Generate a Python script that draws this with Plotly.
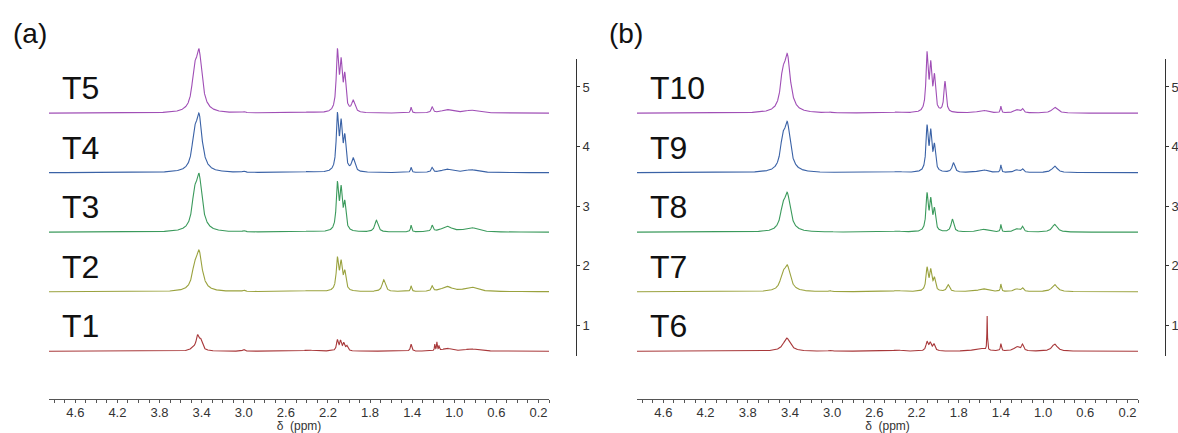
import numpy as np
import plotly.graph_objects as go

W, H = 1178, 433

# ---------------- data ----------------
ppm_range = [4.85, 0.10]
y_ticks = [1, 2, 3, 4, 5]
offsets = [0.56, 1.56, 2.56, 3.56, 4.56]

labels_a = ["T1", "T2", "T3", "T4", "T5"]
labels_b = ["T6", "T7", "T8", "T9", "T10"]
colors = ["#a8383a", "#9aa23e", "#3b9a5c", "#3a62a6", "#a04fb6"]

# peak tables: (chemical shift / ppm, peak height above baseline, half width / ppm)
T1 = [(3.48, 0.08, 0.03), (3.44, 0.28, 0.015), (3.41, 0.22, 0.02), (3.00, 0.03, 0.012),
      (2.38, 0.02, 0.06), (2.11, 0.20, 0.010), (2.08, 0.19, 0.010), (2.05, 0.15, 0.010),
      (2.02, 0.10, 0.012), (1.41, 0.12, 0.008), (1.185, 0.12, 0.004), (1.165, 0.16, 0.004),
      (1.145, 0.10, 0.004), (1.07, 0.05, 0.05), (0.84, 0.04, 0.07)]
T2 = [(3.47, 0.50, 0.025), (3.425, 0.70, 0.035), (3.00, 0.03, 0.012), (2.38, 0.02, 0.06),
      (2.11, 0.59, 0.013), (2.075, 0.54, 0.013), (2.04, 0.37, 0.013), (1.67, 0.20, 0.018),
      (1.41, 0.10, 0.007), (1.21, 0.10, 0.010), (1.07, 0.09, 0.06), (0.84, 0.08, 0.07)]
T3 = [(3.47, 0.76, 0.025), (3.425, 0.99, 0.035), (3.00, 0.03, 0.012), (2.38, 0.02, 0.06),
      (2.11, 0.86, 0.013), (2.075, 0.79, 0.013), (2.04, 0.54, 0.013), (1.74, 0.20, 0.018),
      (1.41, 0.12, 0.007), (1.21, 0.12, 0.010), (1.07, 0.10, 0.06), (0.84, 0.08, 0.07)]
T4 = [(3.47, 0.77, 0.025), (3.425, 1.00, 0.035), (3.00, 0.03, 0.012), (2.38, 0.02, 0.06),
      (2.11, 1.02, 0.013), (2.075, 0.91, 0.013), (2.04, 0.66, 0.013), (1.96, 0.25, 0.018),
      (1.41, 0.09, 0.007), (1.21, 0.09, 0.010), (1.07, 0.06, 0.06), (0.84, 0.05, 0.07)]
T5 = [(3.47, 0.84, 0.025), (3.425, 1.08, 0.035), (3.00, 0.03, 0.012), (2.38, 0.02, 0.06),
      (2.11, 1.09, 0.013), (2.075, 0.94, 0.013), (2.04, 0.69, 0.013), (1.96, 0.22, 0.018),
      (1.41, 0.10, 0.007), (1.21, 0.11, 0.010), (1.07, 0.06, 0.06), (0.84, 0.05, 0.07)]

T6 = [(3.43, 0.22, 0.04), (3.02, 0.02, 0.012), (2.38, 0.02, 0.05), (2.10, 0.17, 0.012),
      (2.07, 0.16, 0.012), (2.035, 0.13, 0.012), (1.60, 0.05, 0.06), (1.53, 0.59, 0.003),
      (1.40, 0.13, 0.006), (1.25, 0.08, 0.03), (1.195, 0.12, 0.012), (0.89, 0.12, 0.03)]
T7 = [(3.47, 0.35, 0.025), (3.425, 0.45, 0.035), (3.02, 0.02, 0.012), (2.38, 0.02, 0.05),
      (2.10, 0.42, 0.012), (2.065, 0.39, 0.012), (2.03, 0.25, 0.012), (1.90, 0.12, 0.015),
      (1.57, 0.05, 0.05), (1.40, 0.13, 0.006), (1.25, 0.05, 0.03), (1.195, 0.07, 0.012),
      (0.89, 0.12, 0.03)]
T8 = [(3.47, 0.50, 0.025), (3.425, 0.67, 0.035), (3.02, 0.02, 0.012), (2.38, 0.02, 0.05),
      (2.10, 0.67, 0.012), (2.065, 0.59, 0.012), (2.03, 0.42, 0.012), (1.86, 0.22, 0.015),
      (1.57, 0.05, 0.05), (1.40, 0.13, 0.006), (1.25, 0.06, 0.03), (1.195, 0.10, 0.012),
      (0.89, 0.13, 0.03)]
T9 = [(3.47, 0.67, 0.025), (3.425, 0.86, 0.035), (3.02, 0.02, 0.012), (2.38, 0.02, 0.05),
      (2.10, 0.81, 0.012), (2.065, 0.74, 0.012), (2.03, 0.50, 0.012), (1.85, 0.17, 0.015),
      (1.57, 0.05, 0.05), (1.40, 0.13, 0.006), (1.25, 0.05, 0.03), (1.195, 0.07, 0.012),
      (0.89, 0.11, 0.03)]
T10 = [(3.47, 0.77, 0.025), (3.425, 1.00, 0.035), (3.02, 0.02, 0.012), (2.38, 0.02, 0.05),
       (2.10, 1.04, 0.012), (2.065, 0.89, 0.012), (2.03, 0.67, 0.012), (1.93, 0.54, 0.012),
       (1.57, 0.05, 0.05), (1.40, 0.12, 0.006), (1.25, 0.06, 0.03), (1.195, 0.08, 0.012),
       (0.89, 0.10, 0.03)]

spectra_a = [T1, T2, T3, T4, T5]
spectra_b = [T6, T7, T8, T9, T10]

# ---------------- build spectra from the peak tables ----------------
grid = np.linspace(ppm_range[0], ppm_range[1], 4751)


def lorentz(x, c, w):
    return 1.0 / (1.0 + ((x - c) / w) ** 2)


def spectrum(peaks):
    c = np.array([p[0] for p in peaks])
    h = np.array([p[1] for p in peaks])
    w = np.array([p[2] for p in peaks])
    A = lorentz(c[:, None], c[None, :], w[None, :])
    amp = np.clip(np.linalg.solve(A, h), 0, None)
    return (amp[None, :] * lorentz(grid[:, None], c[None, :], w[None, :])).sum(axis=1)


FONT = "Arial, Liberation Sans, sans-serif"
fig = go.Figure()

# dummy traces so the visible intensity axes are drawn (added first, drawn underneath)
fig.add_trace(go.Scatter(x=[None], y=[None], xaxis="x", yaxis="y2", showlegend=False, hoverinfo="skip"))
fig.add_trace(go.Scatter(x=[None], y=[None], xaxis="x2", yaxis="y4", showlegend=False, hoverinfo="skip"))

for spectra, labels, xa, ya in [(spectra_a, labels_a, "x", "y"), (spectra_b, labels_b, "x2", "y3")]:
    for peaks, lab, col, off in zip(spectra, labels, colors, offsets):
        fig.add_trace(go.Scatter(x=grid, y=spectrum(peaks) + off, mode="lines",
                                 line=dict(color=col, width=1.1), name=lab,
                                 xaxis=xa, yaxis=ya, hoverinfo="skip"))
        fig.add_annotation(x=4.75, y=off + 0.42, xref=xa, yref=ya, text=lab,
                           showarrow=False, xanchor="left", yanchor="middle",
                           font=dict(family=FONT, size=32, color="#111"))

px_per_unit = (356 - 59) / (5.47 - 0.48)
data_top = 0.48 + 356 / px_per_unit
xpos = 1 - 399 / H
ydom_data = [1 - 356 / H, 1.0]
ydom_vis = [1 - 356 / H, 1 - 59 / H]


def xaxis_cfg(x0, x1):
    return dict(domain=[x0 / W, x1 / W], range=ppm_range, anchor="free", position=xpos,
                showline=True, linecolor="#555", linewidth=1, showgrid=False, zeroline=False,
                ticks="outside", ticklen=3, tickcolor="#555", tickmode="linear", tick0=0.2,
                dtick=0.4, tickformat=".1f", ticklabelstandoff=-2,
                minor=dict(dtick=0.1, tick0=0.2, ticks="outside", ticklen=3, tickcolor="#555",
                           showgrid=False),
                tickfont=dict(family=FONT, size=13, color="#333"),
                title=dict(text="δ  (ppm)", font=dict(family=FONT, size=12, color="#333"),
                           standoff=3))


def yvis_cfg(xp):
    return dict(domain=ydom_vis, range=[0.48, 5.47], anchor="free", position=xp / W,
                side="right", showline=True, linecolor="#333", linewidth=1, showgrid=False,
                zeroline=False, ticks="outside", ticklen=3, tickcolor="#333",
                tickmode="array", tickvals=y_ticks,
                tickfont=dict(family=FONT, size=13, color="#333"))


fig.update_layout(
    width=W, height=H, margin=dict(l=0, r=0, t=0, b=0, autoexpand=False),
    paper_bgcolor="white", plot_bgcolor="rgba(0,0,0,0)", showlegend=False,
    xaxis=xaxis_cfg(49, 549),
    xaxis2=xaxis_cfg(637, 1138),
    yaxis=dict(domain=ydom_data, range=[0.48, data_top], visible=False, anchor="x"),
    yaxis3=dict(domain=ydom_data, range=[0.48, data_top], visible=False, anchor="x2"),
    yaxis2=yvis_cfg(576),
    yaxis4=yvis_cfg(1165),
)

fig.add_annotation(x=11 / W, y=1 - 33 / H, xref="paper", yref="paper", text="(a)",
                   showarrow=False, xanchor="left", yanchor="middle",
                   font=dict(family=FONT, size=28, color="#111"))
fig.add_annotation(x=607 / W, y=1 - 33 / H, xref="paper", yref="paper", text="(b)",
                   showarrow=False, xanchor="left", yanchor="middle",
                   font=dict(family=FONT, size=28, color="#111"))

fig.write_html("out.html", post_script="document.body.style.margin='0';",
               config={"displayModeBar": False})
